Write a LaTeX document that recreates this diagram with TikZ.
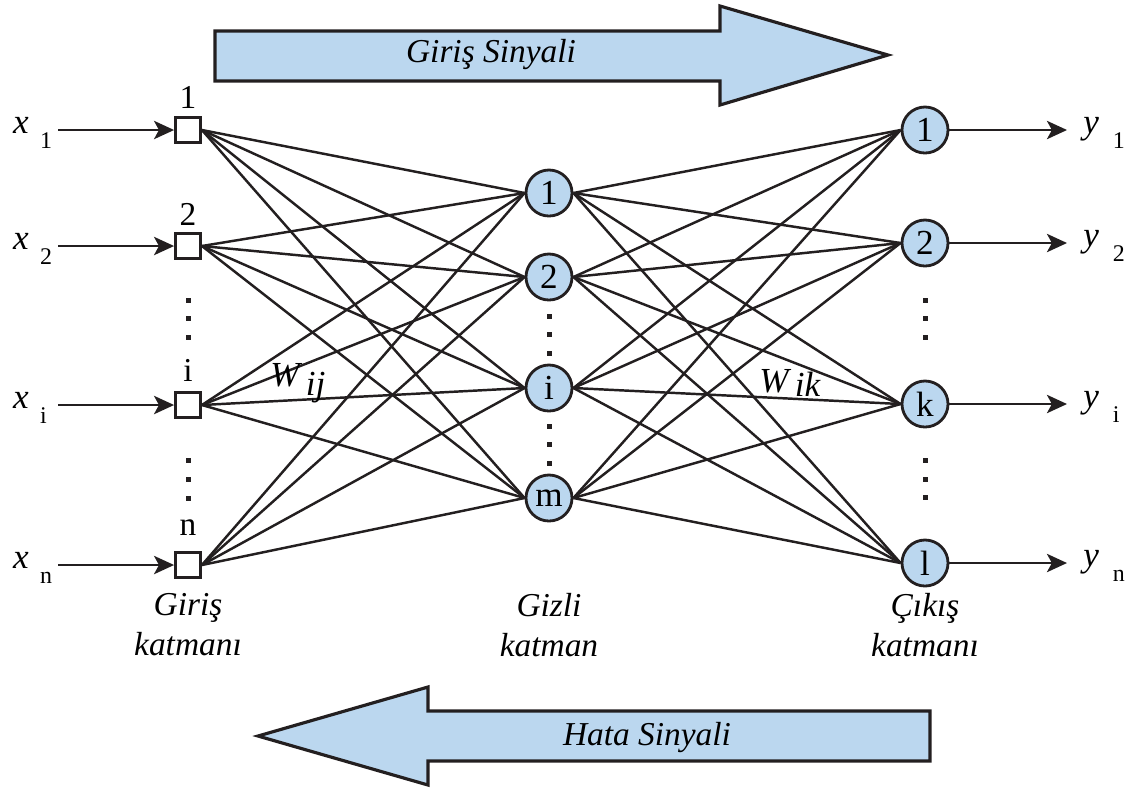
\documentclass[tikz,border=0pt]{standalone}
\usepackage{fontspec}
\setmainfont{Liberation Serif}
\usetikzlibrary{arrows.meta}

\definecolor{nodeblue}{RGB}{187,215,239}
\definecolor{ink}{RGB}{35,31,32}
\newcommand{\subsz}{\fontsize{6.8}{8}\selectfont}

\begin{document}
\begin{tikzpicture}[x=0.01cm,y=-0.01cm,line width=0.7pt,draw=ink,
  >={Stealth[length=5.7pt,width=5.2pt,inset=1.4pt]},
  inp/.style={draw=ink,fill=white,minimum size=0.25cm,inner sep=0pt,line width=0.8pt},
  neuron/.style={circle,draw=ink,fill=nodeblue,minimum size=0.46cm,inner sep=0pt,
    line width=0.8pt,font=\fontsize{10}{11}\selectfont},
  num/.style={inner sep=0pt,font=\fontsize{9.5}{11}\selectfont},
  dotsq/.style={fill=ink,minimum size=0.05cm,inner sep=0pt},
  var/.style={anchor=base west,inner sep=0pt,font=\fontsize{10}{11}\selectfont},
  lbl/.style={align=center,font=\fontsize{9.5}{11.4}\selectfont\itshape},
  bigarrow/.style={draw=ink,fill=nodeblue,line width=0.9pt}]

\useasboundingbox (0,0) rectangle (1134,787);

% signal arrows
\draw[bigarrow] (215,31) -- (720,31) -- (720,6) -- (888,55) -- (720,105)
  -- (720,81) -- (215,81) -- cycle;
\node[lbl] (giris) at (491,55) {Giriş Sinyali};
\draw[bigarrow] (930,711) -- (428,711) -- (428,687) -- (258,736) -- (428,785)
  -- (428,761) -- (930,761) -- cycle;
\node[lbl] (hata) at (647,737) {Hata Sinyali};

% input layer
\node[inp] (inp1) at (188,130) {};
\node[inp] (inp2) at (188,246) {};
\node[inp] (inpi) at (188,405) {};
\node[inp] (inpn) at (188,565) {};
\node[num] (l1) at (188,97) {1};
\node[num] (l2) at (188,214) {2};
\node[num] (li) at (188,370) {i};
\node[num] (ln) at (188,528) {n};

% hidden layer
\node[neuron] (hid1) at (549,193) {1};
\node[neuron] (hid2) at (549,277) {2};
\node[neuron] (hidi) at (549,388) {i};
\node[neuron] (hidm) at (549,498) {m};

% output layer
\node[neuron] (out1) at (925,130) {1};
\node[neuron] (out2) at (925,243) {2};
\node[neuron] (outk) at (925,404) {k};
\node[neuron] (outl) at (925,563) {l};

% dots
\foreach \y in {300,318,337,460,479,498}
  \node[dotsq] at (188,\y) {};
\foreach \y in {316,334,353,426,444,463}
  \node[dotsq] at (549,\y) {};
\foreach \y in {300,318,337,460,479,497}
  \node[dotsq] at (925,\y) {};

% weights
\foreach \a in {inp1,inp2,inpi,inpn}
  \foreach \b in {hid1,hid2,hidi,hidm}
    \draw (\a.east) -- (\b.west);
\foreach \a in {hid1,hid2,hidi,hidm}
  \foreach \b in {out1,out2,outk,outl}
    \draw (\a.east) -- (\b.west);

\node[var,anchor=center] (wij) at (298,383) {\textit{W}\hspace{1pt}\raisebox{-2.5pt}{\textit{ij}}};
\node[var,anchor=center] (wik) at (790,383) {\textit{W}\hspace{1pt}\raisebox{-1pt}{\textit{ik}}};

% inputs
\coordinate (xs1) at (58,130);
\coordinate (xs2) at (58,246);
\coordinate (xsi) at (58,405);
\coordinate (xsn) at (58,565);
\draw[->] (xs1) -- (inp1);
\draw[->] (xs2) -- (inp2);
\draw[->] (xsi) -- (inpi);
\draw[->] (xsn) -- (inpn);
\node[var] (x1) at (12,133) {\textit{x}\hspace{3.2pt}\raisebox{-4.3pt}{\subsz 1}};
\node[var] (x2) at (12,249) {\textit{x}\hspace{3.2pt}\raisebox{-4.3pt}{\subsz 2}};
\node[var] (xi) at (12,408) {\textit{x}\hspace{3.2pt}\raisebox{-4.3pt}{\subsz i}};
\node[var] (xn) at (12,568) {\textit{x}\hspace{3.2pt}\raisebox{-4.3pt}{\subsz n}};

% outputs
\coordinate (ye1) at (1067,130);
\coordinate (ye2) at (1067,243);
\coordinate (yek) at (1067,404);
\coordinate (yel) at (1067,563);
\draw[->] (out1) -- (ye1);
\draw[->] (out2) -- (ye2);
\draw[->] (outk) -- (yek);
\draw[->] (outl) -- (yel);
\node[var] (y1) at (1082,133) {\textit{y}\hspace{4pt}\raisebox{-4.3pt}{\subsz 1}};
\node[var] (y2) at (1082,246) {\textit{y}\hspace{4pt}\raisebox{-4.3pt}{\subsz 2}};
\node[var] (yi) at (1082,407) {\textit{y}\hspace{4pt}\raisebox{-4.3pt}{\subsz i}};
\node[var] (yn) at (1082,566) {\textit{y}\hspace{4pt}\raisebox{-4.3pt}{\subsz n}};

% layer names
\node[lbl] (kin) at (188,625) {Giriş\\katmanı};
\node[lbl] (khid) at (549,625) {Gizli\\katman};
\node[lbl] (kout) at (925,625) {Çıkış\\katmanı};

\end{tikzpicture}
\end{document}
